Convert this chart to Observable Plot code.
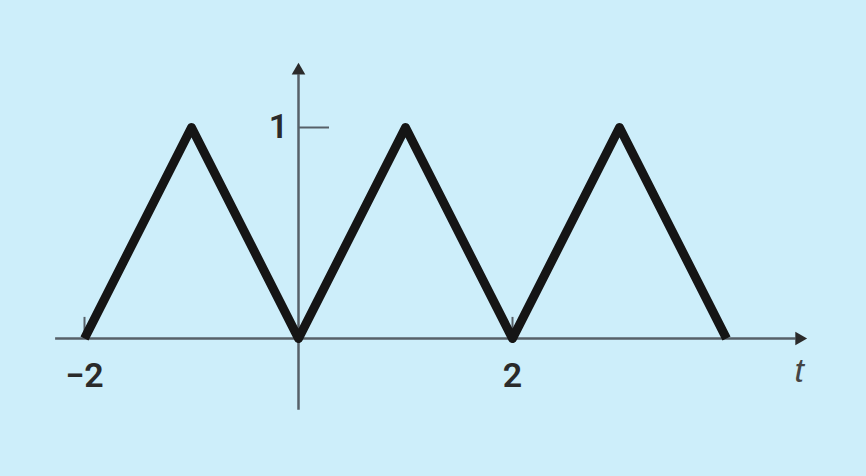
<!DOCTYPE html>
<html><head><meta charset="utf-8">
<script src="https://cdn.jsdelivr.net/npm/d3@7"></script>
<script src="https://cdn.jsdelivr.net/npm/@observablehq/plot@0.6"></script>
<style>
html,body{margin:0;padding:0;background:#cdeefa;}
#chart svg{display:block;}
</style></head>
<body><div id="chart"></div>
<script>
const tPoints = [-2, -1, 0, 1, 2, 3, 4];
const waveValues = [0, 1, 0, 1, 0, 1, 0];
const xTickValues = [-2, 2];
const xTickLabels = ["\u22122", "2"];
const yTickValues = [1];
const yTickLabels = ["1"];
const axisLabel = "t";

const wave = tPoints.map((t, i) => ({t, v: waveValues[i]}));
const xTicks = xTickValues.map((t, i) => ({t, label: xTickLabels[i]}));
const yTicks = yTickValues.map((v, i) => ({v, label: yTickLabels[i]}));

const chart = Plot.plot({
  width: 866, height: 476,
  marginTop: 0, marginBottom: 0, marginLeft: 0, marginRight: 0,
  x: {domain: [-298/107, 568/107], axis: null},
  y: {domain: [-138/211, 338/211], axis: null},
  style: {background: "#cdeefa", overflow: "visible"},
  marks: [
    Plot.ruleY([0], {x1: -2.27, x2: 4.65, stroke: "#566068", strokeWidth: 2.5}),
    Plot.ruleX([0], {y1: -0.34, y2: 1.25, stroke: "#566068", strokeWidth: 2.5}),
    Plot.dot([{x: 4.68, y: 0}], {x: "x", y: "y", symbol: "triangle2", r: 6.5, rotate: 90, fill: "#2a2a2a", stroke: "none"}),
    Plot.dot([{x: 0, y: 1.27}], {x: "x", y: "y", symbol: "triangle2", r: 6.5, fill: "#2a2a2a", stroke: "none"}),
    Plot.ruleX(xTicks, {x: "t", y1: 0, y2: 0.1, stroke: "#566068", strokeWidth: 2}),
    Plot.ruleY(yTicks, {y: "v", x1: 0, x2: 0.29, stroke: "#566068", strokeWidth: 2}),
    Plot.line(wave, {x: "t", y: "v", stroke: "#151515", strokeWidth: 9, strokeLinejoin: "round", strokeLinecap: "butt"}),
    Plot.text(xTicks, {x: "t", y: 0, text: "label", dy: 38, fontSize: 34, fontWeight: 600, fontFamily: "Roboto, Arial, sans-serif", fill: "#2a2a2a"}),
    Plot.text(yTicks, {x: 0, y: "v", text: "label", dx: -20, fontSize: 34, fontWeight: 600, fontFamily: "Roboto, Arial, sans-serif", fill: "#2a2a2a"}),
    Plot.text([axisLabel], {x: 4.68, y: 0, text: d => d, dy: 33, fontSize: 34, fontStyle: "italic", fontFamily: "Liberation Sans, sans-serif", fill: "#444"})
  ]
});
document.getElementById("chart").append(chart);
</script>
</body></html>
